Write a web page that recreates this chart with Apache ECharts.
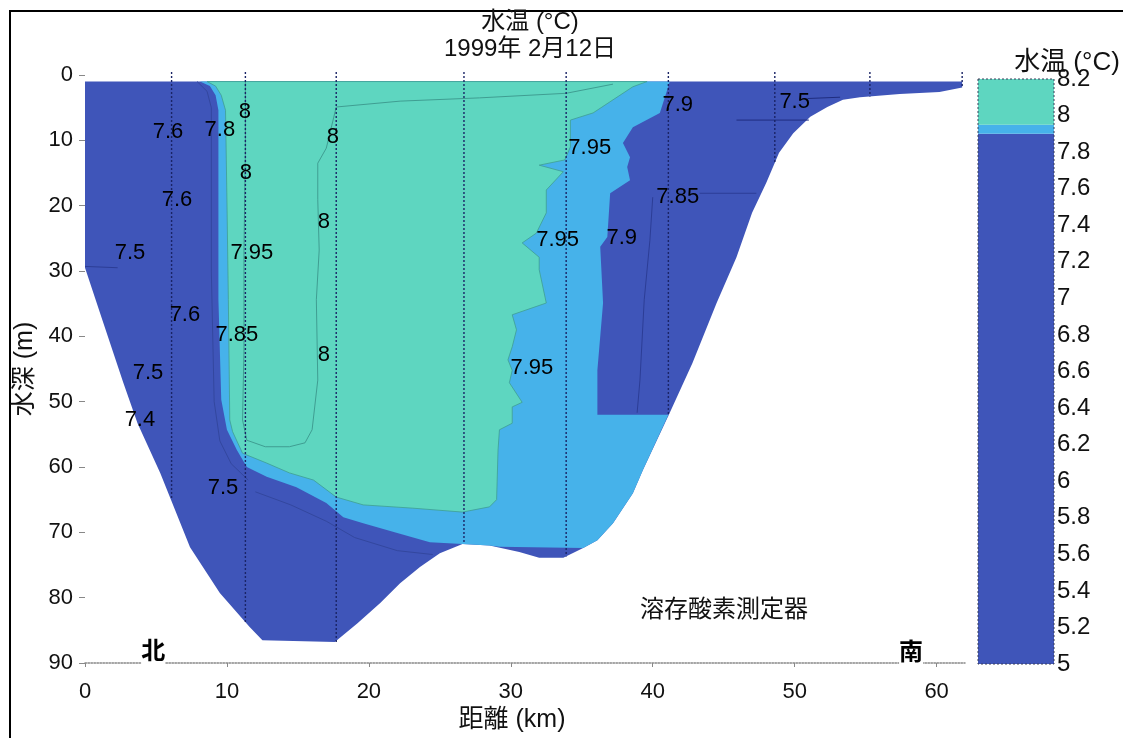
<!DOCTYPE html>
<html>
<head>
<meta charset="utf-8">
<title>水温 1999年2月12日</title>
<script src="https://cdn.jsdelivr.net/npm/echarts@6/dist/echarts.min.js"></script>
<style>
  html, body { margin: 0; padding: 0; background: #fff; }
  #main { width: 1123px; height: 738px; }
</style>
</head>
<body>
<div id="main"></div>
<script>
// all points are [distance km, depth m]
const lakeOutline = [
  [0, 1], [0, 29.5], [1.3, 38], [2.7, 47.1], [3.7, 53.3], [5.3, 60.9], [7.4, 72.3],
  [9.5, 79.3], [11.6, 84.5], [12.5, 86.5], [17.6, 86.8], [19.2, 83.9], [20.8, 80.8],
  [22.2, 77.8], [23.6, 75.3], [25.0, 73.2], [26.6, 71.8], [28.5, 72.0], [30.6, 73.0],
  [32.0, 73.9], [33.7, 73.9], [35.1, 72.4], [36.1, 71.2], [37.2, 68.6], [38.6, 64.0],
  [39.3, 60.5], [41.2, 51.7], [42.8, 44.1], [44.5, 34.9], [45.9, 27.9], [47.0, 21.1],
  [48.0, 16.5], [48.9, 11.9], [49.9, 8.9], [51.1, 6.4], [52.3, 4.9], [53.4, 3.8],
  [54.6, 3.4], [57.4, 2.9], [60.2, 2.6], [61.8, 1.9], [61.8, 1]
];

// water warmer than 7.9 °C
const zone790 = [
  [8.1, 1], [8.8, 1.7], [9.2, 3.1], [9.4, 5.4], [9.4, 19.1], [9.4, 34.4], [9.6, 49.7],
  [10.0, 54.3], [10.7, 57.4], [11.4, 60.0], [12.8, 61.5], [14.9, 63.1], [17.0, 65.5],
  [18.2, 67.7], [19.6, 68.6], [22.0, 70.1], [24.3, 71.5], [26.6, 71.8], [28.5, 72.0],
  [29.2, 72.2], [35.1, 72.4], [36.1, 71.2], [37.2, 68.6], [38.6, 64.0], [39.3, 60.5],
  [41.1, 52.0], [36.1, 52.0], [36.1, 45.2], [36.5, 34.9], [36.3, 26.3], [36.8, 24.8],
  [37.0, 18.1], [38.4, 16.1], [38.2, 14.1], [38.4, 12.6], [37.9, 10.4], [38.6, 8.0],
  [40.5, 5.8], [40.9, 3.1], [41.2, 1]
];

// water warmer than 7.95 °C
const zone795 = [
  [8.6, 1], [39.6, 1], [38.6, 1.8], [37.2, 3.8], [35.8, 5.8], [34.2, 6.9], [34.2, 11.0],
  [33.8, 13.0], [32.0, 13.8], [33.7, 14.8], [32.5, 17.6], [32.5, 21.1], [31.8, 24.2],
  [30.8, 25.7], [32.0, 27.9], [32.0, 29.8], [32.5, 34.9], [30.1, 36.7], [30.4, 39.0],
  [30.1, 41.6], [29.8, 43.6], [30.1, 45.2], [29.9, 47.1], [30.8, 50.1], [30.1, 50.8],
  [30.1, 53.3], [29.2, 54.3], [29.1, 57.4], [29.0, 65.0], [28.5, 66.1], [26.6, 66.9],
  [23.1, 66.3], [19.6, 65.8], [17.7, 64.6], [16.1, 62.0], [14.4, 60.9], [12.8, 59.4],
  [11.1, 57.9], [10.4, 54.6], [10.2, 52.8], [10.1, 34.4], [10.0, 19.1], [9.9, 5.4],
  [9.6, 3.1], [9.2, 1.7]
];

// 8.0 °C isotherm inside the warm core
const line800 = [
  [11.3, 1], [11.3, 11.5], [11.2, 26.8], [11.2, 42.1], [11.1, 52.8], [11.4, 55.9],
  [12.7, 56.9], [14.4, 56.9], [15.5, 56.3], [16.0, 54.3], [16.4, 46.7], [16.3, 34.4],
  [16.5, 26.8], [16.4, 19.1], [16.4, 13.5], [17.0, 11.2], [17.7, 4.9], [22.2, 4.0],
  [27.8, 3.5], [33.9, 2.8], [37.2, 1.4]
];
// isotherms inside the cold water
const line785 = [[40.0, 18.7], [39.8, 25.3], [39.4, 34.4], [39.1, 46.7], [38.9, 51.7]];
const line785b = [[43.3, 18.1], [47.3, 18.1]];
const line780 = [[7.9, 1], [8.6, 2.5], [8.9, 5], [8.9, 30], [9.1, 50], [9.5, 56], [10.3, 59.5], [11.5, 62]];
const line770 = [[12.0, 63.8], [14.5, 65.8], [17.0, 68.3], [19.0, 70.8], [22.0, 72.8], [24.5, 73.4]];
const line750 = [[45.9, 6.9], [51.0, 6.9]];
const line750b = [[50.9, 3.6], [53.2, 3.4]];
const line750c = [[0, 29.3], [2.3, 29.5]];

const stations = [6.1, 11.3, 17.7, 26.7, 33.9, 41.1, 48.6, 55.3, 61.8];
const stationBottoms = [65, 84, 86.8, 71.8, 73.7, 52.2, 13.4, 3.3, 1.9];

const contourLabels = [
  [5.85, 8.7, '7.6'], [9.5, 8.4, '7.8'], [11.27, 5.7, '8'], [17.46, 9.5, '8'],
  [11.34, 15.0, '8'], [6.48, 19.1, '7.6'], [16.83, 22.5, '8'], [3.17, 27.2, '7.5'],
  [11.76, 27.2, '7.95'], [7.04, 36.7, '7.6'], [10.7, 39.8, '7.85'], [16.83, 42.9, '8'],
  [4.44, 45.6, '7.5'], [3.87, 52.8, '7.4'], [9.72, 63.2, '7.5'], [31.48, 44.8, '7.95'],
  [33.3, 25.3, '7.95'], [37.82, 24.9, '7.9'], [35.56, 11.2, '7.95'], [41.76, 18.7, '7.85'],
  [41.76, 4.6, '7.9'], [50.0, 4.1, '7.5']
];
const endLabels = [[4.8, 88.4, '北'], [58.2, 88.6, '南']];

const xTicks = [0, 10, 20, 30, 40, 50, 60];
const colorLevels = [5, 7.9, 7.95, 8.2];

const DARK = '#3F55B9';
const LIGHT = '#46B2EA';
const TEAL = '#5ED6C0';
const bandColors = [DARK, LIGHT, TEAL];
const FONT = "'Liberation Sans', 'Noto Sans CJK JP', sans-serif";

function areaSeries(points, fill, z, stroke) {
  return {
    type: 'custom', xAxisIndex: 0, yAxisIndex: 0, z: z, silent: true,
    data: points,
    renderItem: function (params, api) {
      if (params.dataIndex !== 0) return null;
      return {
        type: 'polygon',
        shape: { points: points.map(function (p) { return api.coord(p); }) },
        style: { fill: fill, stroke: stroke || null, lineWidth: stroke ? 0.8 : 0 }
      };
    }
  };
}

function contourSeries(points, color) {
  return {
    type: 'line', xAxisIndex: 0, yAxisIndex: 0, z: 4, silent: true,
    data: points, showSymbol: false, symbol: 'none',
    lineStyle: { width: 1, color: color }
  };
}

function textSeries(points, size, weight, bg) {
  return {
    type: 'scatter', xAxisIndex: 0, yAxisIndex: 0, z: 6, silent: true,
    data: points, symbolSize: 1, itemStyle: { color: 'transparent' },
    label: {
      show: true, position: 'inside', formatter: function (p) { return p.value[2]; },
      fontFamily: FONT, fontSize: size, fontWeight: weight, color: '#000', opacity: 1,
      textBorderWidth: 0, backgroundColor: bg || 'transparent'
    }
  };
}

const chart = echarts.init(document.getElementById('main'));
chart.setOption({
  animation: false,
  backgroundColor: '#fff',
  title: {
    text: '水温 (°C)\n1999年 2月12日',
    left: 525, top: 4, textAlign: 'center',
    textStyle: { fontFamily: FONT, fontSize: 24, fontWeight: 'normal', color: '#111', lineHeight: 27 }
  },
  grid: [
    { left: 85, top: 75, width: 880, height: 588 },
    { left: 978, top: 79, width: 76, height: 585 }
  ],
  xAxis: [
    {
      type: 'value', min: 0, max: 62, gridIndex: 0,
      name: '距離 (km)', nameLocation: 'middle', nameGap: 42,
      nameTextStyle: { fontFamily: FONT, fontSize: 25, color: '#111', padding: [0, 26, 0, 0] },
      axisLine: { onZero: false, lineStyle: { color: '#888', type: 'dotted', width: 1.5 } },
      axisTick: { customValues: xTicks, length: 4, lineStyle: { color: '#888' } },
      axisLabel: { customValues: xTicks, margin: 18, fontFamily: FONT, fontSize: 22, color: '#111' },
      splitLine: { show: false }
    },
    { type: 'value', min: 0, max: 1, gridIndex: 1, show: false }
  ],
  yAxis: [
    {
      type: 'value', min: 0, max: 90, interval: 10, inverse: true, gridIndex: 0,
      name: '水深 (m)', nameLocation: 'middle', nameGap: 37,
      nameTextStyle: { fontFamily: FONT, fontSize: 25, color: '#111' },
      axisLine: { show: false },
      axisTick: { show: true, length: 6, lineStyle: { color: '#888' } },
      axisLabel: { margin: 12, fontFamily: FONT, fontSize: 22, color: '#111' },
      splitLine: { show: false }
    },
    {
      type: 'value', min: 5, max: 8.2, interval: 0.2, gridIndex: 1, position: 'right',
      axisLine: { show: false }, axisTick: { show: false }, splitLine: { show: false },
      axisLabel: { margin: 3, fontFamily: FONT, fontSize: 24, color: '#111' }
    }
  ],
  series: [
    areaSeries(lakeOutline, DARK, 1),
    areaSeries(zone790, LIGHT, 2),
    areaSeries(zone795, TEAL, 3, '#3f9e92'),
    contourSeries(line800, '#3f9e92'),
    contourSeries(line785, '#2c3d96'),
    contourSeries(line785b, '#2c3d96'),
    contourSeries(line780, '#33479f'),
    contourSeries(line770, '#33479f'),
    contourSeries(line750, '#1f2d80'),
    contourSeries(line750b, '#1f2d80'),
    contourSeries(line750c, '#2c3d96'),
    {
      type: 'custom', xAxisIndex: 0, yAxisIndex: 0, z: 5, silent: true,
      data: stations.map(function (s, i) { return [s, stationBottoms[i]]; }),
      renderItem: function (params, api) {
        const top = api.coord([api.value(0), 0]);
        const bottom = api.coord([api.value(0), api.value(1)]);
        return {
          type: 'line',
          shape: { x1: top[0], y1: top[1] - 3, x2: bottom[0], y2: bottom[1] },
          style: { stroke: '#1a2466', lineWidth: 1.4, lineDash: [2, 2] }
        };
      }
    },
    textSeries(contourLabels, 22, 'normal'),
    textSeries(endLabels, 24, 'bold', '#fff'),
    {
      type: 'custom', xAxisIndex: 1, yAxisIndex: 1, z: 2, silent: true,
      data: colorLevels.slice(0, -1).map(function (lo, i) { return [i, lo, colorLevels[i + 1]]; }),
      renderItem: function (params, api) {
        const i = params.dataIndex;
        const p0 = api.coord([0, api.value(1)]);
        const p1 = api.coord([1, api.value(2)]);
        const children = [{
          type: 'rect',
          shape: { x: p0[0], y: p1[1], width: p1[0] - p0[0], height: p0[1] - p1[1] },
          style: { fill: bandColors[i] }
        }];
        if (i === 0) {
          const q0 = api.coord([0, colorLevels[0]]);
          const q1 = api.coord([1, colorLevels[colorLevels.length - 1]]);
          children.push({
            type: 'rect', z2: 10,
            shape: { x: q0[0], y: q1[1], width: q1[0] - q0[0], height: q0[1] - q1[1] },
            style: { fill: null, stroke: '#3a3f5a', lineWidth: 1, lineDash: [2, 2] }
          });
        }
        return { type: 'group', children: children };
      }
    }
  ],
  graphic: [
    {
      type: 'rect', silent: true,
      shape: { x: 10, y: 11, width: 1200, height: 800 },
      style: { fill: null, stroke: '#000', lineWidth: 2 }
    },
    {
      type: 'text', x: 1067, y: 63, silent: true, z: 10,
      style: { text: '水温 (°C)', font: '26px ' + FONT, fill: '#111', textAlign: 'center', textVerticalAlign: 'middle' }
    },
    {
      type: 'text', x: 724, y: 608, silent: true,
      style: { text: '溶存酸素測定器', font: '24px "Noto Sans CJK JP", sans-serif', fill: '#111', textAlign: 'center', textVerticalAlign: 'middle' }
    }
  ]
});
</script>
</body>
</html>
